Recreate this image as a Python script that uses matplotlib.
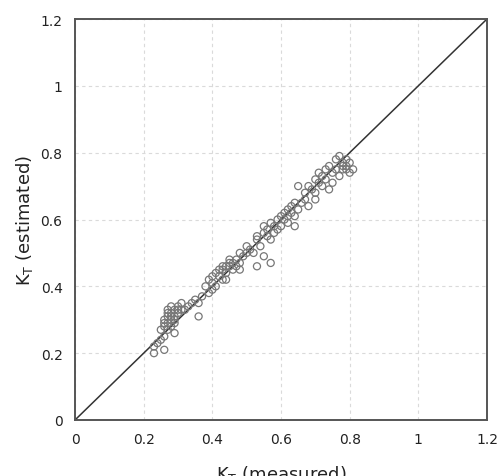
import numpy as np
import matplotlib.pyplot as plt

# measured vs estimated clearness index
kt_measured = [
    0.23, 0.23, 0.24, 0.25, 0.25, 0.26, 0.26, 0.26, 0.27, 0.27,
    0.27, 0.27, 0.28, 0.28, 0.28, 0.28, 0.29, 0.29, 0.29, 0.30,
    0.30, 0.31, 0.31, 0.32, 0.33, 0.34, 0.35, 0.36, 0.37, 0.38,
    0.39, 0.39, 0.40, 0.40, 0.40, 0.41, 0.41, 0.42, 0.42, 0.43,
    0.43, 0.44, 0.44, 0.45, 0.45, 0.46, 0.46, 0.47, 0.47, 0.48,
    0.48, 0.49, 0.50, 0.50, 0.51, 0.52, 0.53, 0.53, 0.54, 0.55,
    0.55, 0.56, 0.56, 0.57, 0.57, 0.58, 0.58, 0.59, 0.59, 0.60,
    0.60, 0.61, 0.61, 0.62, 0.62, 0.63, 0.63, 0.64, 0.64, 0.65,
    0.65, 0.66, 0.67, 0.67, 0.68, 0.68, 0.69, 0.70, 0.70, 0.71,
    0.71, 0.72, 0.72, 0.73, 0.73, 0.74, 0.74, 0.75, 0.75, 0.76,
    0.76, 0.77, 0.77, 0.78, 0.78, 0.79, 0.79, 0.80, 0.80, 0.81,
    0.57, 0.53, 0.55, 0.36, 0.29, 0.26, 0.64, 0.70, 0.44, 0.48,
    0.27, 0.28, 0.29, 0.26, 0.30, 0.43, 0.45, 0.78, 0.79, 0.62,
]
kt_estimated = [
    0.20, 0.22, 0.23, 0.27, 0.24, 0.28, 0.25, 0.30, 0.29, 0.31,
    0.27, 0.33, 0.30, 0.32, 0.28, 0.34, 0.31, 0.33, 0.29, 0.32,
    0.34, 0.33, 0.35, 0.33, 0.34, 0.35, 0.36, 0.35, 0.37, 0.40,
    0.38, 0.42, 0.41, 0.43, 0.39, 0.44, 0.40, 0.43, 0.45, 0.45,
    0.42, 0.46, 0.44, 0.46, 0.47, 0.47, 0.45, 0.48, 0.46, 0.47,
    0.50, 0.49, 0.50, 0.52, 0.51, 0.50, 0.54, 0.55, 0.52, 0.56,
    0.58, 0.55, 0.57, 0.59, 0.54, 0.58, 0.56, 0.60, 0.57, 0.61,
    0.58, 0.62, 0.60, 0.63, 0.59, 0.64, 0.62, 0.61, 0.65, 0.63,
    0.70, 0.65, 0.68, 0.66, 0.70, 0.64, 0.69, 0.72, 0.68, 0.71,
    0.74, 0.73, 0.70, 0.75, 0.72, 0.76, 0.69, 0.74, 0.71, 0.78,
    0.75, 0.79, 0.73, 0.77, 0.75, 0.78, 0.76, 0.74, 0.77, 0.75,
    0.47, 0.46, 0.49, 0.31, 0.26, 0.21, 0.58, 0.66, 0.42, 0.45,
    0.32, 0.31, 0.30, 0.29, 0.33, 0.46, 0.48, 0.76, 0.75, 0.61,
]
ticks = [0, 0.2, 0.4, 0.6, 0.8, 1, 1.2]
tick_labels = ['0', '0.2', '0.4', '0.6', '0.8', '1', '1.2']

plt.rcParams.update({'font.family': 'DejaVu Sans'})
fig = plt.figure(figsize=(4.99, 4.77), dpi=100)
ax = fig.add_axes([75/499, 56/477, 412/499, 401/477])

ax.plot([0, 1.2], [0, 1.2], color='#333333', linewidth=1.1, zorder=2)
ax.scatter(kt_measured, kt_estimated, s=26, facecolors='none',
           edgecolors='#777777', linewidths=0.9, zorder=3)

ax.set_xlim(0, 1.2)
ax.set_ylim(0, 1.2)
ax.set_xticks(ticks)
ax.set_xticklabels(tick_labels)
ax.set_yticks(ticks)
ax.set_yticklabels(tick_labels)
ax.tick_params(length=0, labelsize=10, colors='#222222', pad=9)
ax.grid(True, color='#dadada', linestyle=(0, (3, 3)), linewidth=0.8)
ax.set_axisbelow(True)
for sp in ax.spines.values():
    sp.set_color('#555555')
    sp.set_linewidth(1.4)

ax.set_ylabel('K$_\\mathregular{T}$ (estimated)', fontsize=13, color='#222222', labelpad=4)
ax.set_xlabel('K$_\\mathregular{T}$ (measured)', fontsize=13, color='#222222', labelpad=12)

fig.savefig('out.png', dpi=100)
